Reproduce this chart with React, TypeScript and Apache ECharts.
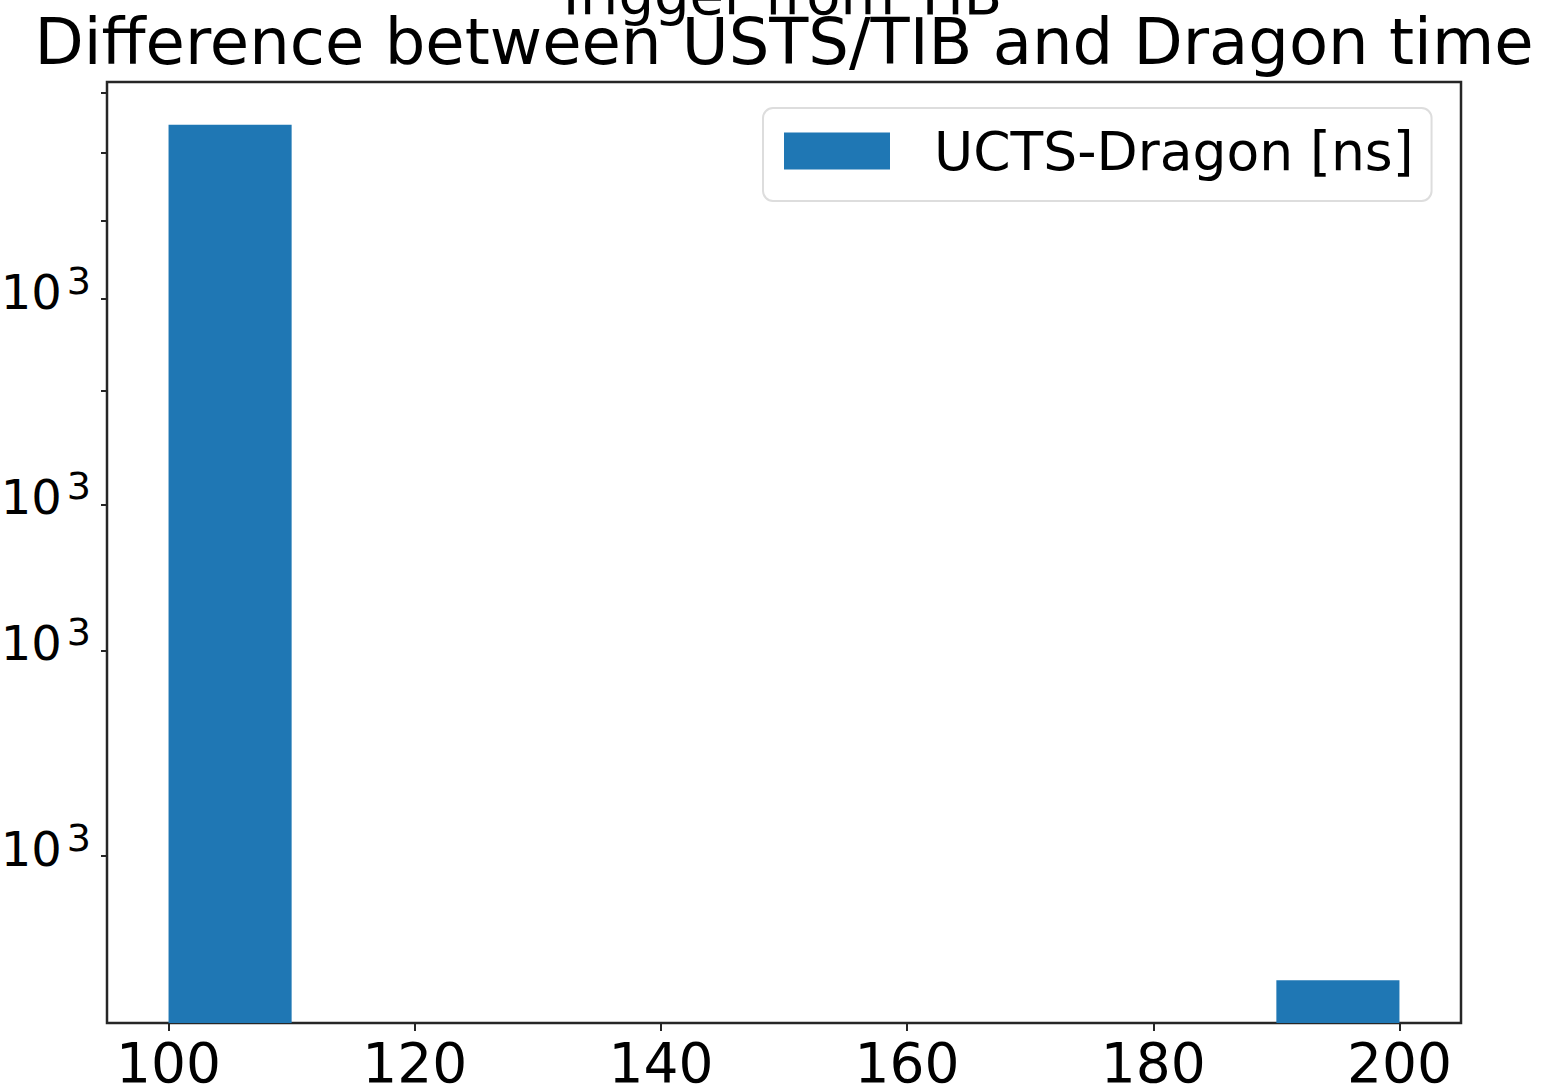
import React, { useEffect, useRef } from "react";
import * as echarts from "echarts";

// ---- data ----
const binEdges = [100, 110, 120, 130, 140, 150, 160, 170, 180, 190, 200];
const counts = [8450, 0, 0, 0, 0, 0, 0, 0, 0, 1566];
const seriesName = "UCTS-Dragon [ns]";
const xTickValues = [100, 120, 140, 160, 180, 200];
const yTickValues = [2000, 3000, 4000, 5000, 6000, 7000, 8000, 9000];
const yLabelValues = [2000, 3000, 4000, 6000];
const yLabelBase = ["10", "10", "10", "10"];
const yLabelExp = ["3", "3", "3", "3"];
const titleText = "Difference between USTS/TIB and Dragon time";
const supTitleText = "Trigger from TIB";

const FONT = "DejaVu Sans";
const BAR_COLOR = "#1f77b4";
const SPINE = "#262626";

export default function App() {
  const ref = useRef<HTMLDivElement>(null);

  useEffect(() => {
    document.body.style.margin = "0";
    if (!ref.current) return;
    const chart = echarts.init(ref.current, null, { renderer: "svg" });

    const positive = counts.filter((c) => c > 0);
    const lo = Math.log10(Math.min(...positive));
    const hi = Math.log10(Math.max(...positive));
    const pad = 0.05 * (hi - lo);
    const yMin = lo - pad;
    const yMax = hi + pad;

    const xLo = binEdges[0];
    const xHi = binEdges[binEdges.length - 1];
    const xPad = 0.05 * (xHi - xLo);

    const barData: number[][] = [];
    counts.forEach((c, i) => {
      if (c > 0) barData.push([binEdges[i], binEdges[i + 1], Math.log10(c)]);
    });

    const labelLog = yLabelValues.map((v) => Math.log10(v));

    chart.setOption({
      animation: false,
      graphic: [
        {
          type: "text",
          x: 778,
          y: -6,
          style: {
            text: supTitleText,
            fontSize: 56,
            fontFamily: FONT,
            fill: "#000",
            align: "center",
            verticalAlign: "middle",
          },
        },
        {
          type: "text",
          x: 784,
          y: 42,
          style: {
            text: titleText,
            fontSize: 64,
            fontFamily: FONT,
            fill: "#000",
            align: "center",
            verticalAlign: "middle",
          },
        },
      ],
      grid: {
        left: 107,
        right: 95,
        top: 82,
        bottom: 66,
        containLabel: false,
        outerBoundsMode: "none",
        show: true,
        borderColor: SPINE,
        borderWidth: 2.5,
        backgroundColor: "transparent",
      },
      legend: {
        left: 763,
        top: 108,
        orient: "horizontal",
        padding: [16, 18, 23, 21],
        itemWidth: 106,
        itemHeight: 37,
        backgroundColor: "#fff",
        borderColor: "#dddddd",
        borderWidth: 2,
        borderRadius: 10,
        textStyle: {
          fontSize: 53.5,
          fontFamily: FONT,
          color: "#000",
          padding: [0, 0, 0, 39],
        },
        data: [{ name: seriesName, icon: "rect" }],
      },
      xAxis: {
        type: "value",
        min: xLo - xPad,
        max: xHi + xPad,
        axisLine: { show: false },
        splitLine: { show: false },
        axisTick: {
          show: true,
          length: 8,
          lineStyle: { color: SPINE, width: 2 },
          customValues: xTickValues,
        },
        axisLabel: {
          fontSize: 55,
          fontFamily: FONT,
          color: "#000",
          margin: 12,
          customValues: xTickValues,
          formatter: (v: number) => String(Math.round(v)),
        },
      },
      yAxis: {
        type: "value",
        min: yMin,
        max: yMax,
        axisLine: { show: false },
        splitLine: { show: false },
        axisTick: {
          show: true,
          length: 6,
          lineStyle: { color: SPINE, width: 2 },
          customValues: yTickValues.map((v) => Math.log10(v)),
        },
        axisLabel: {
          margin: 16,
          padding: [0, 0, 14, 0],
          customValues: labelLog,
          formatter: (v: number) => {
            let idx = 0;
            let best = Infinity;
            labelLog.forEach((l, i) => {
              const d = Math.abs(l - v);
              if (d < best) {
                best = d;
                idx = i;
              }
            });
            return `{a|${yLabelBase[idx]}}{b|${yLabelExp[idx]}}`;
          },
          rich: {
            a: {
              fontSize: 48,
              fontFamily: FONT,
              color: "#000",
              lineHeight: 50,
            },
            b: {
              fontSize: 38,
              fontFamily: FONT,
              color: "#000",
              lineHeight: 38,
              padding: [0, 0, 22, 5],
            },
          },
        },
      },
      series: [
        {
          type: "custom",
          name: seriesName,
          itemStyle: { color: BAR_COLOR },
          encode: { x: [0, 1], y: 2 },
          clip: true,
          data: barData,
          renderItem: (params: any, api: any) => {
            const x0 = api.value(0);
            const x1 = api.value(1);
            const y = api.value(2);
            const p0 = api.coord([x0, y]);
            const p1 = api.coord([x1, yMin]);
            return {
              type: "rect",
              shape: {
                x: p0[0],
                y: p0[1],
                width: p1[0] - p0[0],
                height: p1[1] - p0[1],
              },
              style: { fill: BAR_COLOR },
            };
          },
        },
      ],
    });

    return () => chart.dispose();
  }, []);

  return <div ref={ref} style={{ width: 1556, height: 1089 }} />;
}
